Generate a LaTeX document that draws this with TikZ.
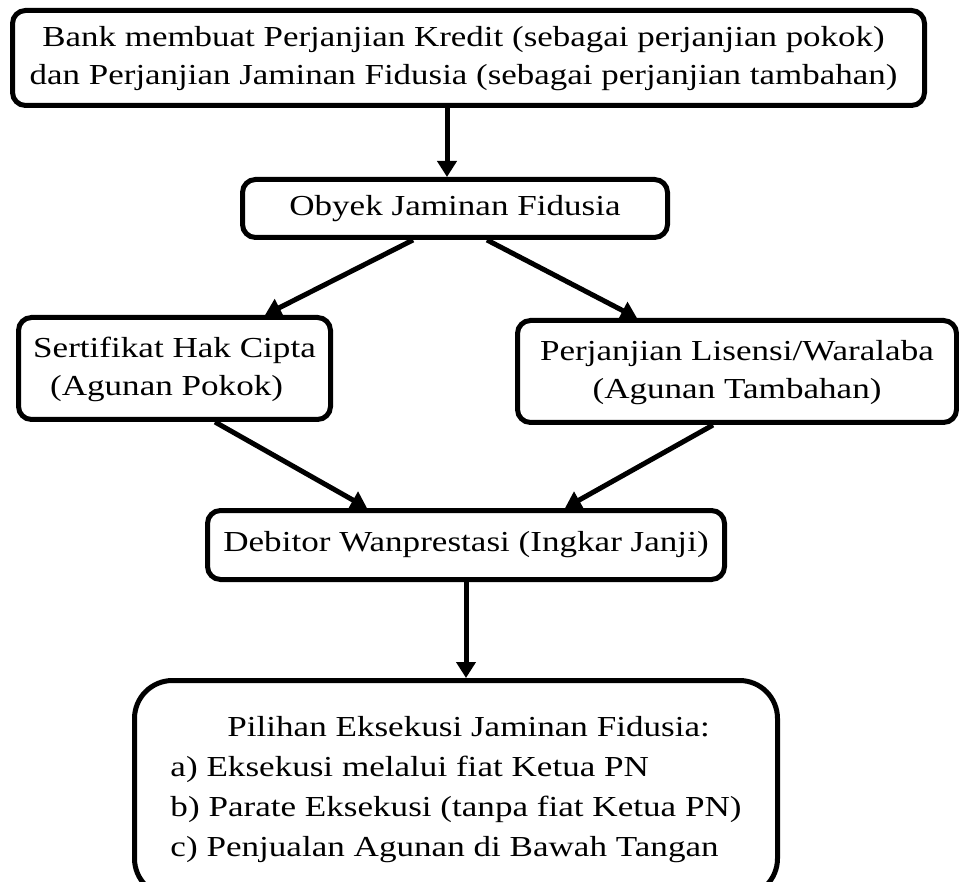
\documentclass[tikz,border=0pt]{standalone}
\usepackage{fontspec}
\setmainfont{Liberation Serif}
\usepackage{graphicx}
\usetikzlibrary{arrows.meta}
\newcommand\sxt[1]{\scalebox{1.21}[1]{#1}}
\newcommand\sxtb[1]{\scalebox{1.205}[1]{#1}}
\begin{document}
\begin{tikzpicture}[x=1pt,y=-1pt,
  box/.style={draw=black,line width=5pt,rounded corners=13pt,inner sep=0pt,align=center,font=\fontsize{29}{38}\selectfont},
  arr/.style={line width=5pt,-{Triangle[length=16pt,width=19pt]}}]
\useasboundingbox (0,0) rectangle (959,882);
\node[box,minimum width=912pt,minimum height=95pt] (b1) at (468.5,58)
  {\sxtb{\begin{tabular}{@{}c@{}}Bank membuat Perjanjian Kredit (sebagai perjanjian pokok)\\dan Perjanjian Jaminan Fidusia (sebagai perjanjian tambahan)\end{tabular}}\hspace*{10pt}};
\node[box,minimum width=425pt,minimum height=58pt] (b2) at (455,208.5)
  {\sxt{Obyek Jaminan Fidusia}};
\node[box,minimum width=312pt,minimum height=102pt] (b3) at (174.5,368.5)
  {\sxt{\begin{tabular}{@{}l@{}}Sertifikat Hak Cipta\\\hspace*{14pt}(Agunan Pokok)\end{tabular}}};
\node[box,minimum width=439pt,minimum height=102pt] (b4) at (737,371.5)
  {\sxt{\begin{tabular}{@{}c@{}}Perjanjian Lisensi/Waralaba\\(Agunan Tambahan)\end{tabular}}};
\node[box,minimum width=517pt,minimum height=69pt] (b5) at (466,545)
  {\sxt{Debitor Wanprestasi (Ingkar Janji)}};
\node[box,rounded corners=38pt,minimum width=643pt,minimum height=216pt,font=\fontsize{29}{40}\selectfont] (b6) at (456,788.5)
  {\sxt{\begin{tabular}{@{}l@{}}\hspace*{47pt}Pilihan Eksekusi Jaminan Fidusia:\\a) Eksekusi melalui fiat Ketua PN\\b) Parate Eksekusi (tanpa fiat Ketua PN)\\c) Penjualan Agunan di Bawah Tangan\end{tabular}}};
\draw[arr] ([xshift=-21.5pt]b1.south) -- ([xshift=-8pt]b2.north);
\draw[arr] ([xshift=-42pt]b2.south) -- ([xshift=90.5pt]b3.north);
\draw[arr] ([xshift=32pt]b2.south) -- ([xshift=-100pt]b4.north);
\draw[arr] ([xshift=40.5pt]b3.south) -- ([xshift=-99pt]b5.north);
\draw[arr] ([xshift=-24pt]b4.south) -- ([xshift=99pt]b5.north);
\draw[arr] (b5.south) -- ([xshift=10pt]b6.north);
\end{tikzpicture}
\end{document}
